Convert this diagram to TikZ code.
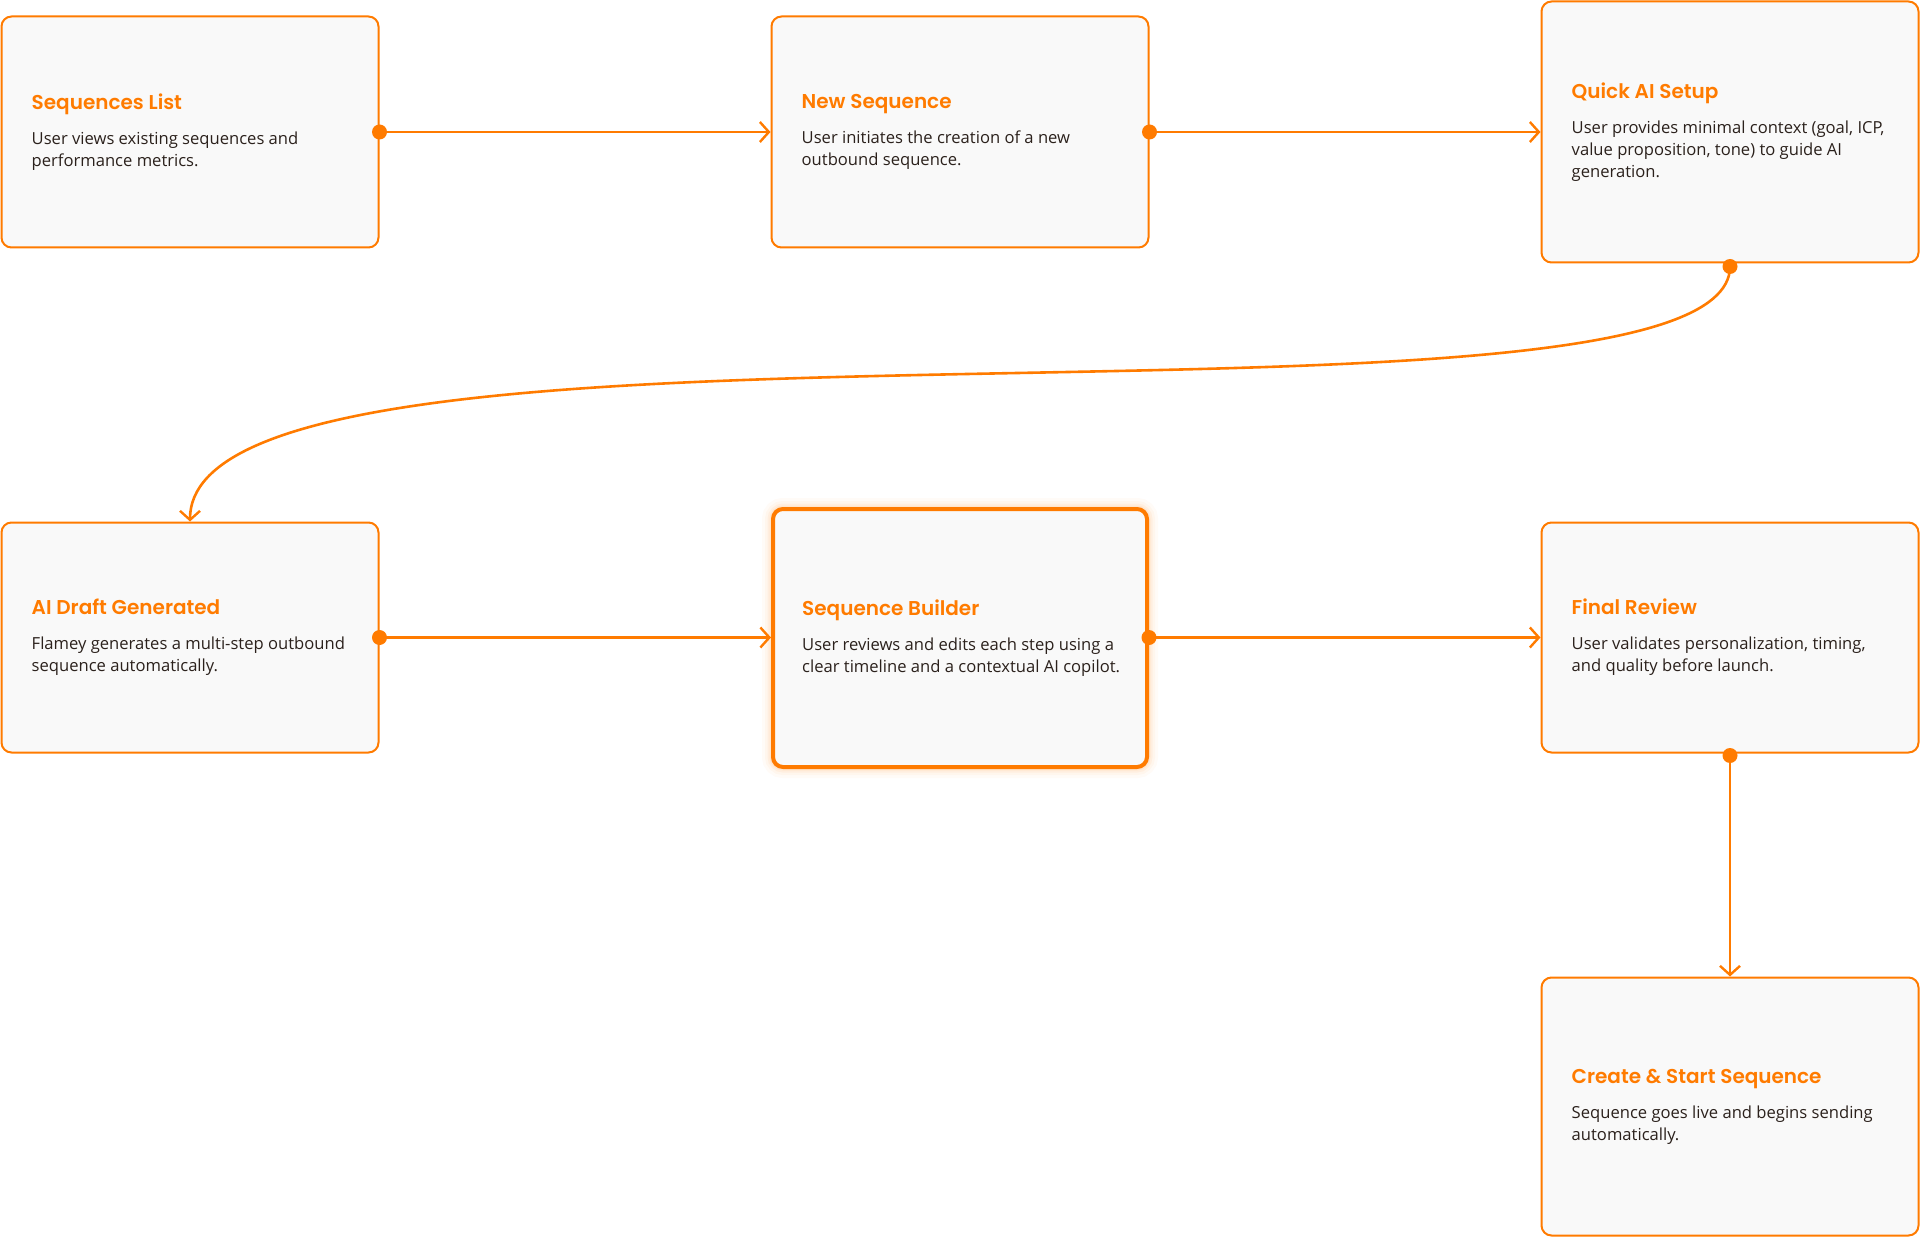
\documentclass[tikz,border=0pt]{standalone}
\usepackage{fontspec}
\setmainfont{Open Sans}
\newfontfamily\titlefont{Poppins SemiBold}
\usetikzlibrary{arrows.meta}
\definecolor{flame}{HTML}{FF7B00}
\definecolor{boxfill}{HTML}{F9F9F9}
\definecolor{bodytext}{HTML}{2B211C}
\tikzset{
  stepbox/.style={draw=flame, fill=boxfill, line width=2pt, rounded corners=10pt, inner sep=0pt},
  hotbox/.style={stepbox, line width=4pt},
  steptext/.style={anchor=west, inner sep=0pt, align=left, text=bodytext, font=\fontsize{16.6}{22}\selectfont},
  link/.style={draw=flame, line width=2.6pt, -{Straight Barb[length=9pt,width=20pt,line width=2.4pt]}},
  dotend/.style={fill=flame}
}
\newcommand{\steptitle}[1]{{\titlefont\fontsize{20}{22}\selectfont\color{flame}#1}\\[13pt]}
\begin{document}
\begin{tikzpicture}[x=1pt,y=-1pt]
\useasboundingbox (0,0) rectangle (1920,1238);
% boxes
\node[stepbox, minimum width=377pt, minimum height=231pt] (sl) at (190,132) {};
\node[stepbox, minimum width=377pt, minimum height=231pt] (ns) at (960,132) {};
\node[stepbox, minimum width=377pt, minimum height=261pt] (qa) at (1730,132) {};
\node[stepbox, minimum width=377pt, minimum height=230pt] (ad) at (190,637.5) {};
% glow for highlighted box
\foreach \w/\o in {22/0.03,16/0.04,11/0.06,7/0.08}{
  \draw[flame, opacity=\o, line width=\w pt, rounded corners=10pt] (773,509) rectangle (1147,767);
}
\node[hotbox, minimum width=374pt, minimum height=258pt] (sb) at (960,638) {};
\node[stepbox, minimum width=377pt, minimum height=230pt] (fr) at (1730,637.5) {};
\node[stepbox, minimum width=377pt, minimum height=258pt] (cs) at (1730,1106.5) {};
% texts
\node[steptext] (slt) at ([xshift=31pt]sl.west) {\steptitle{Sequences List}User views existing sequences and\\performance metrics.};
\node[steptext] (nst) at ([xshift=31pt]ns.west) {\steptitle{New Sequence}User initiates the creation of a new\\outbound sequence.};
\node[steptext] (qat) at ([xshift=31pt]qa.west) {\steptitle{Quick AI Setup}User provides minimal context (goal, ICP,\\value proposition, tone) to guide AI\\generation.};
\node[steptext] (adt) at ([xshift=31pt]ad.west) {\steptitle{AI Draft Generated}Flamey generates a multi-step outbound\\sequence automatically.};
\node[steptext] (sbt) at ([xshift=31pt]sb.west) {\steptitle{Sequence Builder}User reviews and edits each step using a\\clear timeline and a contextual AI copilot.};
\node[steptext] (frt) at ([xshift=31pt]fr.west) {\steptitle{Final Review}User validates personalization, timing,\\and quality before launch.};
\node[steptext] (cst) at ([xshift=31pt]cs.west) {\steptitle{Create \& Start Sequence}Sequence goes live and begins sending\\automatically.};
% dot positions for vertical links
\coordinate (qad) at ([yshift=-3pt]qa.south);
\coordinate (frd) at ([yshift=-2pt]fr.south);
% connectors
\draw[link] (sl.east) -- (ns.west);
\draw[link] (ns.east) -- (qa.west |- ns.east);
\draw[link] (qad) .. controls +(0,196) and +(0,-248) .. (ad.north);
\draw[link] (ad.east) -- (sb.west |- ad.east);
\draw[link] (sb.east |- fr.west) -- (fr.west);
\draw[link] (frd) -- (cs.north);
% start dots
\fill[dotend] (sl.east) circle (7.5pt);
\fill[dotend] (ns.east) circle (7.5pt);
\fill[dotend] (qad) circle (7.5pt);
\fill[dotend] (ad.east) circle (7.5pt);
\fill[dotend] (sb.east |- fr.west) circle (7.5pt);
\fill[dotend] (frd) circle (7.5pt);
\end{tikzpicture}
\end{document}
